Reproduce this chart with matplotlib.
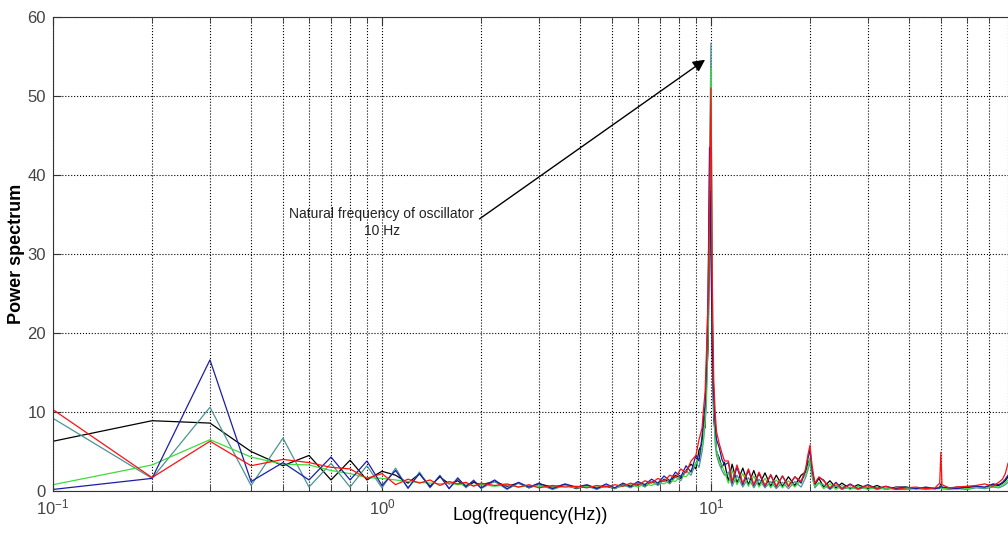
import matplotlib
matplotlib.use('Agg')
import matplotlib.pyplot as plt
from matplotlib.ticker import FixedLocator, FixedFormatter, LogLocator, NullFormatter

# frequency points (Hz)
freq = [
    0.1, 0.2, 0.3, 0.4, 0.5, 0.6, 0.7, 0.8, 0.9, 1.0,
    1.1, 1.2, 1.3, 1.4, 1.5, 1.6, 1.7, 1.8, 1.9, 2.0,
    2.2, 2.4, 2.6, 2.8, 3.0, 3.3, 3.6, 3.9, 4.2, 4.5,
    4.8, 5.1, 5.4, 5.7, 6.0, 6.3, 6.6, 6.9, 7.2, 7.5,
    7.8, 8.1, 8.4, 8.7, 9.0, 9.2, 9.4, 9.5, 9.6, 9.7,
    9.8, 9.9, 10.0, 10.1, 10.2, 10.3, 10.4, 10.6, 10.8, 11.0,
    11.3, 11.6, 12.0, 12.5, 13.0, 13.5, 14.0, 14.6, 15.2, 15.8,
    16.5, 17.2, 18.0, 18.8, 19.4, 19.7, 20.0, 20.3, 20.7, 21.3,
    22.0, 23.0, 24.0, 25.0, 26.5, 28.0, 30.0, 32.0, 34.0, 36.5,
    39.0, 42.0, 45.0, 48.0, 49.6, 50.0, 50.4, 53.0, 56.0, 60.0,
    64.0, 68.0, 72.0, 75.0, 77.0, 78.5, 80.0,
]

power_black = [
    6.3, 8.9, 8.6, 5.0, 3.2, 4.5, 1.4, 3.9, 1.4, 2.5,
    2.0, 1.0, 2.2, 0.6, 1.8, 0.9, 1.3, 0.5, 1.1, 0.8,
    1.2, 0.6, 1.0, 0.4, 0.9, 0.5, 0.8, 0.3, 0.7, 0.4,
    0.6, 0.3, 0.8, 0.5, 0.9, 0.6, 1.2, 0.8, 1.5, 1.1,
    2.0, 1.6, 2.6, 3.4, 2.8, 5.2, 6.0, 9.5, 8.0, 14.0,
    18.0, 30.0, 38.0, 16.0, 9.0, 7.5, 5.0, 4.2, 3.0, 3.6,
    1.2, 3.4, 1.0, 2.9, 0.8, 2.6, 0.7, 2.3, 0.6, 2.0,
    0.6, 1.8, 0.7, 2.0, 2.4, 3.5, 4.0, 2.6, 0.8, 1.6,
    0.5, 1.3, 0.4, 1.0, 0.3, 0.8, 0.3, 0.7, 0.2, 0.5,
    0.5, 0.3, 0.4, 0.3, 0.5, 0.9, 0.4, 0.3, 0.5, 0.4,
    0.6, 0.4, 0.8, 0.7, 1.0, 1.3, 1.8,
]

power_teal = [
    9.2, 1.6, 10.6, 0.7, 6.7, 0.5, 3.5, 0.5, 3.2, 0.4,
    2.9, 0.3, 2.4, 0.4, 2.0, 0.3, 1.7, 0.4, 1.4, 0.3,
    1.2, 0.2, 1.0, 0.4, 0.8, 0.2, 0.7, 0.4, 0.6, 0.2,
    0.7, 0.3, 0.8, 0.4, 1.0, 0.5, 1.2, 0.7, 1.4, 0.9,
    1.8, 1.3, 2.6, 2.0, 3.6, 3.0, 5.0, 6.5, 8.5, 13.0,
    22.0, 40.0, 56.7, 20.0, 10.0, 6.0, 4.5, 3.4, 2.6, 2.0,
    2.4, 0.6, 2.0, 0.5, 1.7, 0.4, 1.5, 0.4, 1.2, 0.3,
    1.1, 0.3, 1.2, 0.5, 1.7, 2.6, 3.6, 1.8, 0.4, 1.0,
    0.8, 0.2, 0.7, 0.2, 0.5, 0.2, 0.5, 0.2, 0.4, 0.2,
    0.2, 0.3, 0.2, 0.3, 0.3, 0.5, 0.3, 0.2, 0.3, 0.2,
    0.4, 0.3, 0.5, 0.4, 0.6, 0.8, 1.1,
]

power_green = [
    0.8, 3.3, 6.5, 4.3, 3.4, 3.3, 2.6, 2.2, 1.7, 1.6,
    1.4, 1.2, 1.1, 1.0, 0.9, 1.0, 0.8, 0.9, 0.7, 0.8,
    0.6, 0.8, 0.5, 0.7, 0.6, 0.5, 0.7, 0.4, 0.6, 0.5,
    0.7, 0.4, 0.6, 0.8, 0.5, 0.9, 0.7, 1.1, 0.9, 1.4,
    1.2, 2.0, 1.8, 2.6, 3.5, 4.2, 5.5, 7.0, 9.0, 12.0,
    20.0, 34.0, 53.5, 22.0, 11.0, 7.0, 5.2, 3.8, 3.2, 2.4,
    1.0, 2.6, 0.8, 2.2, 0.6, 1.9, 0.5, 1.6, 0.4, 1.4,
    0.4, 1.3, 0.5, 1.4, 2.0, 3.0, 4.2, 2.1, 0.6, 1.1,
    0.3, 0.9, 0.2, 0.7, 0.2, 0.6, 0.2, 0.5, 0.2, 0.4,
    0.3, 0.4, 0.3, 0.3, 0.4, 0.7, 0.3, 0.3, 0.4, 0.3,
    0.5, 0.4, 0.6, 0.5, 0.8, 1.0, 1.4,
]

power_blue = [
    0.2, 1.6, 16.6, 1.2, 3.6, 1.4, 4.3, 1.4, 3.8, 0.7,
    2.6, 0.4, 2.2, 0.5, 1.9, 0.3, 1.6, 0.6, 1.3, 0.4,
    1.4, 0.3, 1.1, 0.5, 1.0, 0.3, 0.9, 0.5, 0.8, 0.3,
    0.9, 0.4, 1.0, 0.6, 1.2, 0.8, 1.5, 1.0, 1.9, 1.3,
    2.4, 1.8, 3.2, 2.4, 4.5, 3.8, 7.0, 9.0, 11.0, 16.0,
    25.0, 43.5, 30.0, 18.0, 12.0, 8.5, 6.5, 5.5, 4.0, 3.3,
    3.6, 1.0, 3.0, 0.8, 2.6, 0.7, 2.2, 0.6, 2.0, 0.5,
    1.9, 0.6, 1.8, 1.0, 2.6, 4.0, 5.2, 2.7, 0.9, 1.7,
    1.4, 0.3, 1.1, 0.3, 0.9, 0.3, 0.8, 0.3, 0.6, 0.3,
    0.5, 0.3, 0.5, 0.3, 0.4, 0.6, 0.5, 0.4, 0.3, 0.5,
    0.6, 0.5, 0.9, 0.8, 1.1, 1.5, 2.0,
]

power_red = [
    10.3, 1.7, 6.3, 3.2, 4.0, 3.6, 3.0, 2.8, 1.6, 2.2,
    0.8, 1.5, 1.0, 1.4, 0.7, 1.2, 0.9, 1.1, 0.6, 1.0,
    0.7, 0.9, 0.5, 0.8, 0.4, 0.7, 0.5, 0.6, 0.4, 0.7,
    0.5, 0.8, 0.6, 1.0, 0.7, 1.3, 1.0, 1.6, 1.2, 2.0,
    1.7, 2.8, 2.3, 3.8, 4.5, 6.5, 8.0, 10.5, 12.5, 18.0,
    24.0, 36.0, 51.0, 26.0, 14.0, 10.0, 7.5, 6.0, 4.8, 3.8,
    3.8, 1.2, 3.3, 1.0, 2.8, 0.8, 2.4, 0.7, 2.1, 0.6,
    1.9, 0.6, 1.8, 1.2, 2.8, 4.5, 5.8, 3.2, 1.0, 1.8,
    1.3, 0.4, 1.0, 0.3, 0.8, 0.3, 0.7, 0.3, 0.6, 0.2,
    0.4, 0.5, 0.3, 0.4, 1.0, 4.9, 0.8, 0.4, 0.5, 0.6,
    0.7, 0.9, 0.6, 1.1, 1.5, 2.2, 3.5,
]

series = [
    (power_black, 'black'),
    (power_teal, '#4a9496'),
    (power_green, '#3ddc3d'),
    (power_blue, '#1c1ca8'),
    (power_red, '#ff1010'),
]

font = ['Liberation Sans', 'DejaVu Sans']

fig = plt.figure(figsize=(10.08, 5.34), dpi=100)
ax = fig.add_axes([0.0526, 0.0805, 0.9474, 0.8875])

for values, color in series:
    ax.plot(freq, values, color=color, lw=0.9)

ax.set_xscale('log')
ax.set_xlim(0.1, 80)
ax.set_ylim(0, 60)

ax.xaxis.set_major_locator(FixedLocator([0.1, 1, 10]))
ax.xaxis.set_major_formatter(FixedFormatter([r'$\mathregular{10^{-1}}$',
                                             r'$\mathregular{10^{0}}$',
                                             r'$\mathregular{10^{1}}$']))
ax.xaxis.set_minor_locator(LogLocator(base=10, subs=range(2, 10)))
ax.xaxis.set_minor_formatter(NullFormatter())
ax.set_yticks([0, 10, 20, 30, 40, 50, 60])

ax.grid(True, which='major', axis='both', ls=':', color='black', lw=0.8)
ax.grid(True, which='minor', axis='x', ls=':', color='black', lw=0.8)

ax.tick_params(which='both', direction='in', top=True, right=False,
               colors='#333333', labelcolor='#444444')
ax.tick_params(which='major', length=6, labelsize=12, pad=5)
ax.tick_params(which='minor', length=4)
for lab in ax.get_xticklabels() + ax.get_yticklabels():
    lab.set_family(font)

ax.spines['right'].set_visible(False)
for s in ['left', 'bottom', 'top']:
    ax.spines[s].set_color('#333333')

ax.set_xlabel('Log(frequency(Hz))', fontsize=13, family=font)
ax.xaxis.set_label_coords(0.5, -0.033)
ax.set_ylabel('Power spectrum', fontsize=13, fontweight='bold', family=font)
ax.yaxis.set_label_coords(-0.029, 0.5)

ax.annotate('Natural frequency of oscillator\n10 Hz', xy=(9.6, 54.6),
            xytext=(1.0, 34), ha='center', va='center', fontsize=10,
            family=font, color='#222222',
            arrowprops=dict(arrowstyle='-|>', color='black', lw=1,
                            mutation_scale=18, relpos=(1.0, 0.5), shrinkA=2, shrinkB=0))

fig.savefig('out.png', dpi=100)
